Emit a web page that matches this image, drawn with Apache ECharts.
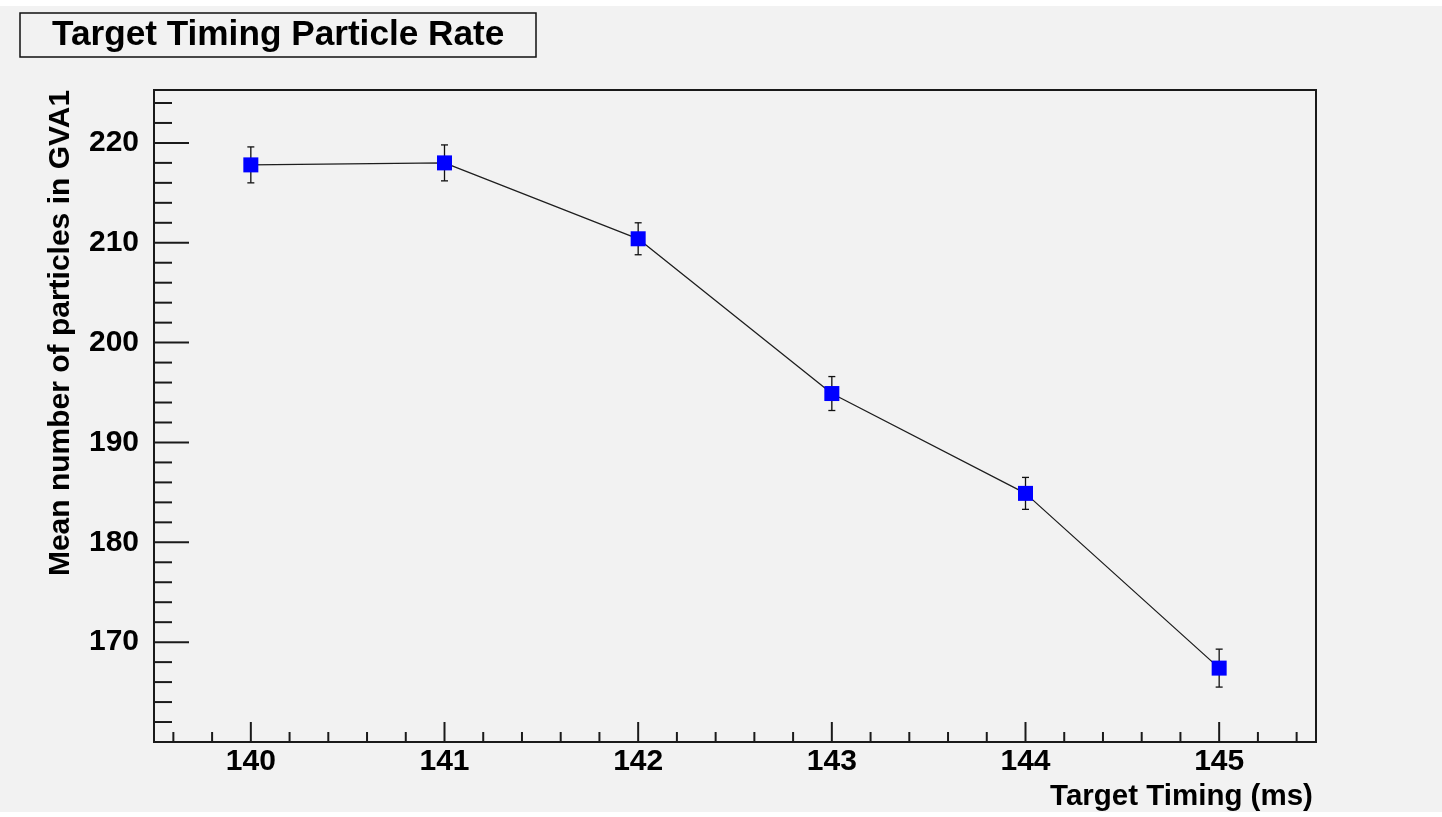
<!DOCTYPE html>
<html><head><meta charset="utf-8">
<script src="https://cdn.jsdelivr.net/npm/echarts@6/dist/echarts.min.js"></script>
<style>html,body{margin:0;padding:0;background:#ffffff;} #c{position:absolute;left:0;top:6px;width:1442px;height:806px;}</style>
</head><body><div id="c"></div>
<script>
// ---- data ----
const timing = [140, 141, 142, 143, 144, 145];
const meanParticles = [217.8, 218.0, 210.4, 194.9, 184.9, 167.4];
const errors = [1.8, 1.8, 1.6, 1.7, 1.6, 1.9];
const xTickLabels = ['140', '141', '142', '143', '144', '145'];
const yTickLabels = ['170', '180', '190', '200', '210', '220'];
const xMajorTicks = [140, 141, 142, 143, 144, 145];
const yMajorTicks = [170, 180, 190, 200, 210, 220];
const X_MIN = 139.5, X_MAX = 145.5, Y_MIN = 160, Y_MAX = 225.3;

// minor tick positions (axis decoration)
const xMinorTicks = [];
for (let i = 0; i < 30; i++) {
  const v = Math.round((139.6 + 0.2 * i) * 10) / 10;
  if (v < X_MAX && Math.abs(v - Math.round(v)) > 1e-9) xMinorTicks.push(v);
}
const yMinorTicks = [];
for (let i = 0; i < 40; i++) {
  const v = 162 + 2 * i;
  if (v < Y_MAX && v % 10 !== 0) yMinorTicks.push(v);
}

const FONT = "'Liberation Sans', Arial, Helvetica, sans-serif";
const tickData = []
  .concat(xMajorTicks.map(v => [v, 0]))
  .concat(xMinorTicks.map(v => [v, 1]))
  .concat(yMajorTicks.map(v => [v, 2]))
  .concat(yMinorTicks.map(v => [v, 3]));

const chart = echarts.init(document.getElementById('c'));
chart.setOption({
  animation: false,
  backgroundColor: '#f2f2f2',
  title: {
    text: 'Target Timing Particle Rate',
    left: 20, top: 7,
    padding: [5, 32, 5, 32],
    borderColor: '#111', borderWidth: 1.5,
    textStyle: { fontFamily: FONT, fontWeight: 'bold', fontSize: 35.2, lineHeight: 34, color: '#000' }
  },
  grid: {
    left: 154, top: 84, right: 126, bottom: 70,
    show: true, borderColor: '#1a1a1a', borderWidth: 2, backgroundColor: 'transparent',
    outerBoundsMode: 'none'
  },
  xAxis: {
    type: 'value', min: X_MIN, max: X_MAX, interval: 0.5,
    axisLine: { show: false },
    axisTick: { show: false },
    splitLine: { show: false },
    axisLabel: {
      margin: 5, color: '#000', fontFamily: FONT, fontWeight: 'bold', fontSize: 30,
      formatter: v => {
        const r = Math.round(v);
        if (Math.abs(v - r) > 1e-6) return '';
        const s = String(r);
        return xTickLabels.indexOf(s) >= 0 ? s : '';
      }
    },
    name: 'Target Timing (ms)', nameLocation: 'middle', nameGap: 32,
    nameTextStyle: { fontFamily: FONT, fontWeight: 'bold', fontSize: 29.5, lineHeight: 30, color: '#000',
      padding: [0, 0, 0, 893] }
  },
  yAxis: {
    type: 'value', min: Y_MIN, max: Y_MAX, interval: 10,
    axisLine: { show: false },
    axisTick: { show: false },
    splitLine: { show: false },
    axisLabel: {
      margin: 15, color: '#000', fontFamily: FONT, fontWeight: 'bold', fontSize: 30,
      showMinLabel: false, showMaxLabel: false,
      formatter: v => {
        const r = Math.round(v);
        if (Math.abs(v - r) > 1e-6) return '';
        const s = String(r);
        return yTickLabels.indexOf(s) >= 0 ? s : '';
      }
    },
    name: 'Mean number of particles in GVA1', nameLocation: 'middle', nameGap: 78, nameRotate: 90,
    nameTextStyle: { fontFamily: FONT, fontWeight: 'bold', fontSize: 30, lineHeight: 30, color: '#000',
      padding: [0, 0, 0, 166] }
  },
  series: [
    {
      name: 'ticks', type: 'custom', z: 4, clip: false, silent: true,
      data: tickData,
      renderItem: (params, api) => {
        const v = api.value(0), k = api.value(1);
        let x1, y1, x2, y2;
        if (k < 2) {
          const p = api.coord([v, Y_MIN]);
          const len = k === 0 ? 20 : 10;
          x1 = p[0]; y1 = p[1]; x2 = p[0]; y2 = p[1] - len;
        } else {
          const p = api.coord([X_MIN, v]);
          const len = k === 2 ? 35 : 18;
          x1 = p[0]; y1 = p[1]; x2 = p[0] + len; y2 = p[1];
        }
        return { type: 'line', shape: { x1, y1, x2, y2 }, style: { stroke: '#1a1a1a', lineWidth: 2 } };
      }
    },
    {
      name: 'errors', type: 'custom', z: 2, clip: false, silent: true,
      data: timing.map((x, i) => [x, meanParticles[i], errors[i]]),
      renderItem: (params, api) => {
        const x = api.value(0), y = api.value(1), e = api.value(2);
        const top = api.coord([x, y + e]);
        const bot = api.coord([x, y - e]);
        const st = { stroke: '#111', lineWidth: 1.3 };
        return { type: 'group', children: [
          { type: 'line', shape: { x1: top[0], y1: top[1], x2: bot[0], y2: bot[1] }, style: st },
          { type: 'line', shape: { x1: top[0] - 3.5, y1: top[1], x2: top[0] + 3.5, y2: top[1] }, style: st },
          { type: 'line', shape: { x1: bot[0] - 3.5, y1: bot[1], x2: bot[0] + 3.5, y2: bot[1] }, style: st }
        ] };
      }
    },
    {
      name: 'Mean particles', type: 'line', z: 3,
      data: timing.map((x, i) => [x, meanParticles[i]]),
      symbol: 'rect', symbolSize: 15, showAllSymbol: true,
      itemStyle: { color: '#0000ff', borderWidth: 0 },
      lineStyle: { color: '#1e1e1e', width: 1.3 }
    }
  ]
});
</script></body></html>
